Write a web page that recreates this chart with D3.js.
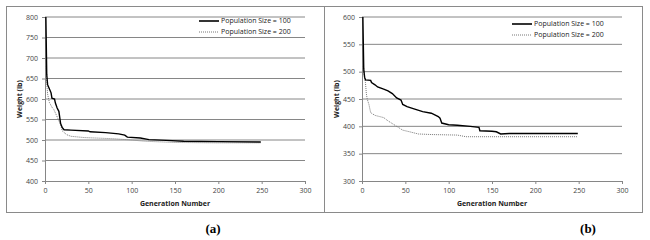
<!DOCTYPE html>
<html>
<head>
<meta charset="utf-8">
<script src="https://cdn.jsdelivr.net/npm/d3@7"></script>
<style>
  body { margin: 0; background: #fff; }
  svg text { font-family: "Open Sans", "Liberation Sans", sans-serif; }
</style>
</head>
<body>
<svg></svg>
<script>
// [generation, weight] pairs
const popA100 = [[1,800],[2,660],[3,635],[5,625],[7,615],[8,602],[11,600],[12,590],[14,578],[16,570],[17,555],[18,540],[20,530],[22,525],[30,524],[50,522],[52,520],[70,518],[85,515],[92,512],[95,507],[110,505],[120,501],[140,499],[160,497],[200,496],[249,495]];
const popA200 = [[1,680],[2,640],[3,612],[5,592],[8,580],[10,575],[12,566],[15,552],[18,537],[20,522],[25,513],[30,509],[45,506],[80,503],[100,500],[115,497],[150,494],[200,493],[249,493]];
const popB100 = [[1,600],[2,505],[3,490],[4,485],[10,484],[11,480],[15,476],[18,472],[25,468],[30,465],[35,460],[40,452],[45,448],[47,440],[52,436],[60,432],[70,427],[80,424],[88,418],[90,415],[92,406],[100,403],[110,402],[125,400],[135,398],[136,392],[150,391],[155,390],[160,386],[170,387],[249,387]];
const popB200 = [[1,510],[2,500],[4,480],[5,460],[6,450],[8,440],[10,425],[15,420],[20,418],[25,416],[30,410],[40,400],[47,393],[55,390],[65,386],[80,385],[110,384],[120,381],[249,381]];

const xTicks = [0, 50, 100, 150, 200, 250, 300];
const yTicksA = [400, 450, 500, 550, 600, 650, 700, 750, 800];
const yTicksB = [300, 350, 400, 450, 500, 550, 600];
const seriesNames = ["Population Size = 100", "Population Size = 200"];

const svg = d3.select("svg").attr("width", 650).attr("height", 240);

function drawPanel(p) {
    const g = svg.append("g");

    // panel frame
    g.append("rect")
        .attr("x", p.box[0] + 0.5).attr("y", 6.5)
        .attr("width", p.box[1] - p.box[0]).attr("height", 206)
        .attr("fill", "none").attr("stroke", "#8a8a8a");

    const x = d3.scaleLinear().domain([0, 300]).range([p.left, p.right]);
    const y = d3.scaleLinear().domain(d3.extent(p.yTicks)).range([181, 17]);

    // grid
    g.selectAll(".grid").data(p.yTicks.slice(1)).enter().append("line")
        .attr("x1", p.left).attr("x2", p.right)
        .attr("y1", d => y(d)).attr("y2", d => y(d))
        .attr("stroke", "#868686").attr("stroke-width", 1);

    const yAxis = g.append("g")
        .attr("transform", "translate(" + p.left + ",0)")
        .call(d3.axisLeft(y).tickValues(p.yTicks).tickSize(3).tickPadding(4));
    const xAxis = g.append("g")
        .attr("transform", "translate(0," + y(p.yTicks[0]) + ")")
        .call(d3.axisBottom(x).tickValues(xTicks).tickSize(3).tickPadding(4));

    [xAxis, yAxis].forEach(a => {
        a.select(".domain").attr("stroke", "#868686");
        a.selectAll(".tick line").attr("stroke", "#868686");
        a.selectAll(".tick text").attr("fill", "#444").style("font-size", "7px");
    });

    const line = d3.line().x(d => x(d[0])).y(d => y(d[1]));

    g.append("path").datum(p.s200).attr("d", line)
        .attr("fill", "none").attr("stroke", "#777")
        .attr("stroke-width", 1).attr("stroke-dasharray", "1,1");
    g.append("path").datum(p.s100).attr("d", line)
        .attr("fill", "none").attr("stroke", "#000")
        .attr("stroke-width", 1.4);

    // legend
    const lg = g.append("g").attr("transform", "translate(" + p.legend[0] + "," + p.legend[1] + ")");
    seriesNames.forEach((name, i) => {
        lg.append("line")
            .attr("x1", 0).attr("x2", 20).attr("y1", i * 11).attr("y2", i * 11)
            .attr("stroke", i ? "#777" : "#000")
            .attr("stroke-width", i ? 1 : 1.6)
            .attr("stroke-dasharray", i ? "1,1" : null);
        lg.append("text")
            .attr("x", 22).attr("y", i * 11).attr("dy", "0.35em")
            .style("font-size", "7px").attr("fill", "#222")
            .text(name);
    });

    // axis titles
    g.append("text")
        .attr("transform", "translate(" + p.yTitleX + ",99) rotate(-90)")
        .attr("text-anchor", "middle").attr("dy", "0.35em")
        .style("font-size", "7px").style("font-weight", "bold").attr("fill", "#222")
        .text("Weight (lb)");
    g.append("text")
        .attr("x", (p.left + p.right) / 2).attr("y", 204).attr("dy", "0.35em")
        .attr("text-anchor", "middle")
        .style("font-size", "7px").style("font-weight", "bold").attr("fill", "#222")
        .text("Generation Number");

    // panel label
    svg.append("text")
        .attr("x", p.labelX).attr("y", 228).attr("dy", "0.35em")
        .attr("text-anchor", "middle")
        .style("font-family", "'Liberation Serif', serif")
        .style("font-size", "13px").style("font-weight", "bold")
        .text(p.label);
}

drawPanel({box: [6, 324], left: 45, right: 305, yTicks: yTicksA,
    s100: popA100, s200: popA200, legend: [199, 21], yTitleX: 20, labelX: 213, label: "(a)"});
drawPanel({box: [324, 642], left: 362, right: 622, yTicks: yTicksB,
    s100: popB100, s200: popB200, legend: [512, 24], yTitleX: 337, labelX: 588, label: "(b)"});
</script>
</body>
</html>
